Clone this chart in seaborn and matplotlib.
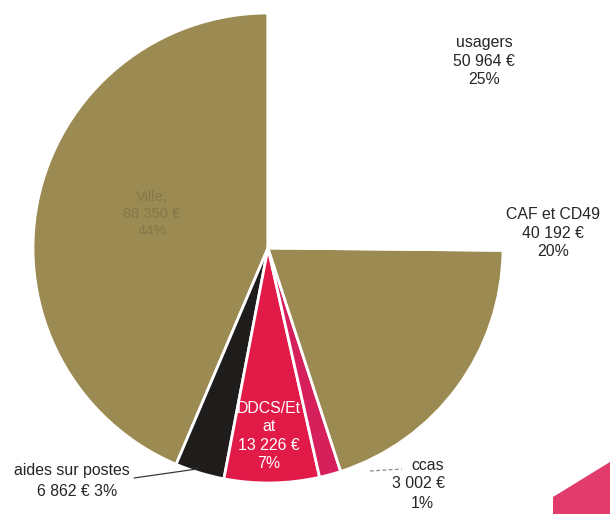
import matplotlib
matplotlib.use("Agg")
import matplotlib.pyplot as plt
import seaborn as sns
from matplotlib.patches import Polygon

sns.set_theme(style="white")
plt.rcParams["font.family"] = ["Liberation Sans", "DejaVu Sans"]

# Funding sources (amounts in euros) and their displayed shares
sources = ["Ville", "aides sur postes", "DDCS/Etat", "ccas", "CAF et CD49", "usagers"]
amounts = [88350, 6862, 13226, 3002, 40192, 50964]
shares = ["44%", "3%", "7%", "1%", "20%", "25%"]
amount_text = ["88 350 €", "6 862 €", "13 226 €", "3 002 €", "40 192 €", "50 964 €"]

olive = "#9b8a52"
colors = [olive, "#1f1d1c", "#e11a48", "#d6205c", olive, "#ffffff"]

W, H = 610, 514
fig = plt.figure(figsize=(W / 100, H / 100), dpi=100)
ax = fig.add_axes([0, 0, 1, 1])

cx, cy, r = 268, H - 248, 235
ax.pie(amounts, colors=colors, startangle=90, counterclock=True,
       center=(cx, cy), radius=r, frame=True,
       wedgeprops=dict(edgecolor="white", linewidth=2))
ax.set_xlim(0, W)
ax.set_ylim(0, H)
ax.set_aspect("equal")
ax.axis("off")

txt = dict(ha="center", va="center", fontsize=11.4, color="#262626", linespacing=1.3)

# Ville (printed in a tone close to the slice colour)
ax.text(152, H - 214, f"Ville,\n{amount_text[0]}\n{shares[0]}",
        **{**txt, "color": "#867649", "fontsize": 10.5})

# usagers
ax.text(484, H - 61, f"{sources[5]}\n{amount_text[5]}\n{shares[5]}", **txt)

# CAF et CD49
ax.text(553, H - 233, f"{sources[4]}\n{amount_text[4]}\n{shares[4]}", **txt)

# DDCS/Etat inside its slice
ax.text(269, H - 436, f"DDCS/Et\nat\n{amount_text[2]}\n{shares[2]}",
        **{**txt, "color": "white"})

# aides sur postes with leader line
ax.text(72, H - 471, sources[1], **txt)
ax.text(77, H - 491, f"{amount_text[1]} {shares[1]}", **txt)
ax.plot([134, 197], [H - 478, H - 469], color="#3a3a3a", lw=0.9)

# ccas with dashed leader line
ax.text(428, H - 466, sources[3], **txt)
ax.text(418, H - 484, amount_text[3], **txt)
ax.text(422, H - 503, shares[3], **txt)
ax.plot([370, 402], [H - 471, H - 469], color="#8a8a8a", lw=0.9, ls=(0, (3, 2)))

# decorative corner shape
ax.add_patch(Polygon([(553, H - 497), (610, H - 462), (610, 0), (553, 0)],
                     closed=True, facecolor="#e23c6c", edgecolor="none"))

fig.savefig("out.png", dpi=100)
